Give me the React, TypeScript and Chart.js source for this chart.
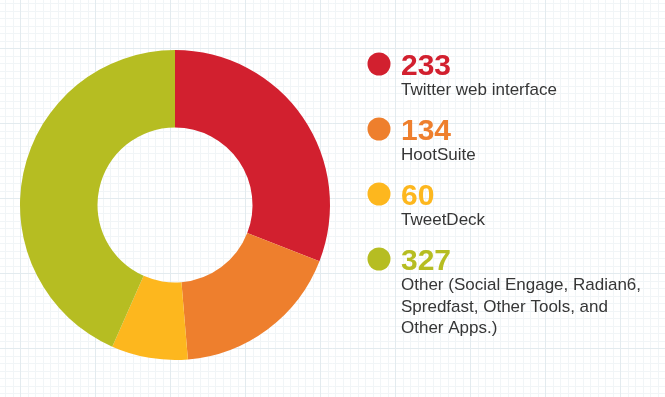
import React, { useEffect, useRef } from "react";
import { Chart, registerables } from "chart.js";

Chart.register(...registerables);

const categories: string[][] = [
  ["Twitter web interface"],
  ["HootSuite"],
  ["TweetDeck"],
  ["Other (Social Engage, Radian6,", "Spredfast, Other Tools, and", "Other Apps.)"],
];
const values: number[] = [233, 134, 60, 327];
const colors: string[] = ["#d2202f", "#ee7f2d", "#fdb71e", "#b6bd22"];

const W = 665;
const H = 397;

const gridPlugin = {
  id: "gridBg",
  beforeDraw(chart: any) {
    const ctx = chart.ctx as CanvasRenderingContext2D;
    ctx.save();
    ctx.fillStyle = "#ffffff";
    ctx.fillRect(0, 0, W, H);
    const minor = 7.5;
    ctx.lineWidth = 1;
    ctx.strokeStyle = "#f1f5f7";
    for (let i = -10; i * minor < W; i++) {
      const x = Math.round(20 + i * minor) + 0.5;
      ctx.beginPath();
      ctx.moveTo(x, 0);
      ctx.lineTo(x, H);
      ctx.stroke();
    }
    for (let i = -10; i * minor < H; i++) {
      const y = Math.round(48 + i * minor) + 0.5;
      ctx.beginPath();
      ctx.moveTo(0, y);
      ctx.lineTo(W, y);
      ctx.stroke();
    }
    ctx.strokeStyle = "#e3ebef";
    for (let i = -1; i * 75 < W; i++) {
      const x = 20 + i * 75 + 0.5;
      ctx.beginPath();
      ctx.moveTo(x, 0);
      ctx.lineTo(x, H);
      ctx.stroke();
    }
    for (let i = -1; i * 75 < H; i++) {
      const y = 48 + i * 75 + 0.5;
      ctx.beginPath();
      ctx.moveTo(0, y);
      ctx.lineTo(W, y);
      ctx.stroke();
    }
    ctx.restore();
  },
};

const legendPlugin = {
  id: "sideLegend",
  afterDraw(chart: any) {
    const ctx = chart.ctx as CanvasRenderingContext2D;
    const ds = chart.data.datasets[0];
    const labels = chart.data.labels as string[][];
    ctx.save();
    const x0 = 379;
    const tx = 401;
    let base = 75;
    ds.data.forEach((v: number, i: number) => {
      const col = ds.backgroundColor[i];
      ctx.fillStyle = col;
      ctx.beginPath();
      ctx.arc(x0, base - 11, 11.5, 0, Math.PI * 2);
      ctx.fill();
      ctx.font = "bold 30px 'Liberation Sans', Arial, sans-serif";
      ctx.textBaseline = "alphabetic";
      ctx.textAlign = "left";
      ctx.fillText(String(v), tx, base);
      ctx.font = "17px 'Liberation Sans', Arial, sans-serif";
      ctx.fillStyle = "#363636";
      const lines = labels[i];
      lines.forEach((ln: string, j: number) => {
        ctx.fillText(ln, tx, base + 20 + j * 21.5);
      });
      base += 65;
    });
    ctx.restore();
  },
};

export default function App() {
  const ref = useRef<HTMLCanvasElement | null>(null);
  useEffect(() => {
    document.body.style.margin = "0";
    if (!ref.current) return;
    const chart = new Chart(ref.current, {
      type: "doughnut",
      data: {
        labels: categories as any,
        datasets: [
          {
            data: values,
            backgroundColor: colors,
            borderWidth: 0,
          },
        ],
      },
      options: {
        animation: false,
        responsive: false,
        cutout: "50%",
        layout: { padding: { left: 20, right: 335, top: 50, bottom: 37 } },
        plugins: {
          legend: { display: false },
          tooltip: { enabled: false },
        },
      },
      plugins: [gridPlugin, legendPlugin],
    });
    return () => chart.destroy();
  }, []);
  return (
    <div style={{ width: W, height: H }}>
      <canvas ref={ref} width={W} height={H} style={{ display: "block" }} />
    </div>
  );
}
